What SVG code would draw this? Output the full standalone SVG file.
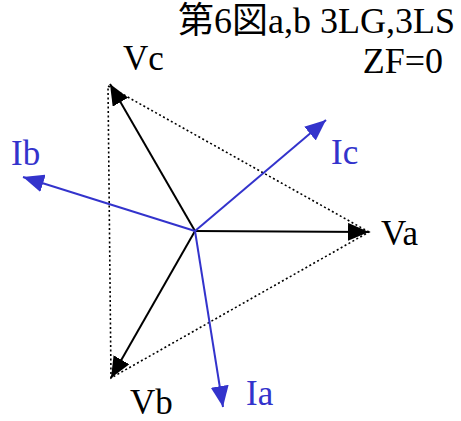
<svg xmlns="http://www.w3.org/2000/svg" width="461" height="421" viewBox="0 0 461 421">
<style>
text{font-family:"Liberation Serif","Noto Sans CJK JP",serif;font-size:35px}
.t{font-size:36px}
.k{stroke:#000;stroke-width:2;fill:none}
.b{stroke:#3333CC;stroke-width:2;fill:none}
.d{stroke:#000;stroke-width:1.6;stroke-dasharray:2,2.5;fill:none}
.bt{fill:#3333CC}
</style>
<defs>
<marker id="ak" viewBox="0 0 21 18" refX="21" refY="9" markerWidth="21" markerHeight="18" markerUnits="userSpaceOnUse" orient="auto"><path d="M0,0L21,9L0,18z" fill="#000"/></marker>
<marker id="ab" viewBox="0 0 21 18" refX="21" refY="9" markerWidth="21" markerHeight="18" markerUnits="userSpaceOnUse" orient="auto"><path d="M0,0L21,9L0,18z" fill="#3333CC"/></marker>
</defs>
<g id="connectors">
<path class="d" d="M369,232L108,86L111,378Z"/>
<line class="k" x1="195" y1="231" x2="369" y2="232" marker-end="url(#ak)"/>
<line class="k" x1="195" y1="231" x2="110" y2="84" marker-end="url(#ak)"/>
<line class="k" x1="195" y1="231" x2="111" y2="378" marker-end="url(#ak)"/>
<line class="b" x1="195" y1="231" x2="326" y2="120" marker-end="url(#ab)"/>
<line class="b" x1="195" y1="231" x2="23" y2="177" marker-end="url(#ab)"/>
<line class="b" x1="195" y1="231" x2="223" y2="407" marker-end="url(#ab)"/>
</g>
<g id="title"><text class="t" x="455" y="33" text-anchor="end">第6図a,b 3LG,3LS</text><text class="t" x="443" y="73" text-anchor="end">ZF=0</text></g>
<g id="Va"><text x="381" y="245">Va</text></g>
<g id="Vb"><text x="130" y="414">Vb</text></g>
<g id="Vc"><text x="123" y="70">Vc</text></g>
<g id="Ia"><text class="bt" x="246" y="405">Ia</text></g>
<g id="Ib"><text class="bt" x="11" y="165">Ib</text></g>
<g id="Ic"><text class="bt" x="331" y="164">Ic</text></g>
</svg>
